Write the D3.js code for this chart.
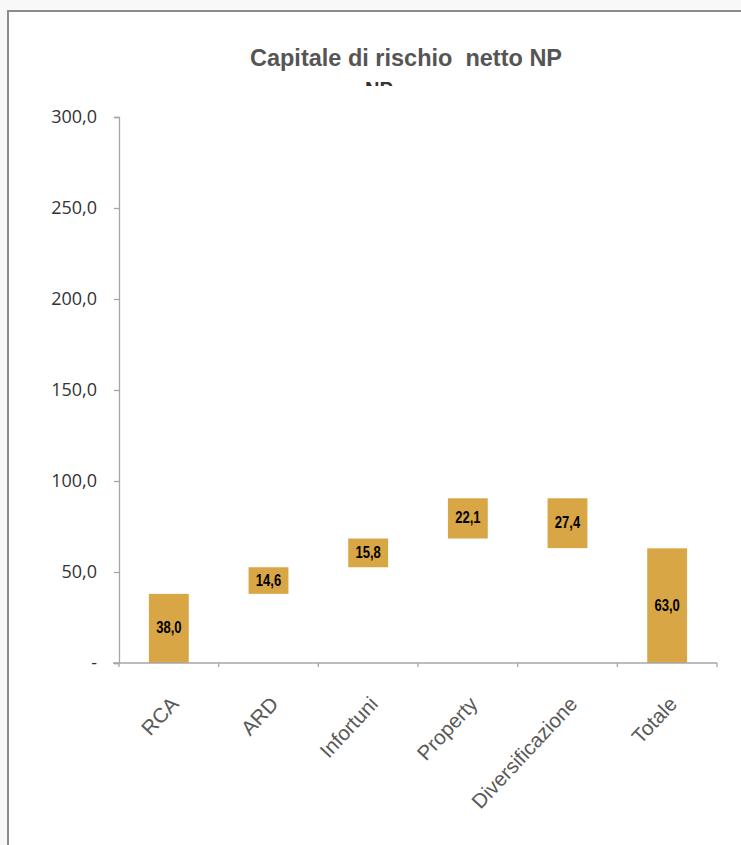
<!DOCTYPE html>
<html>
<head>
<meta charset="utf-8">
<title>Capitale di rischio netto NP</title>
<script src="https://cdn.jsdelivr.net/npm/d3@7"></script>
<style>
  body { margin: 0; background: #f8f8f8; }
  svg { display: block; }
</style>
</head>
<body>
<script>
// data
var categories = ["RCA", "ARD", "Infortuni", "Property", "Diversificazione", "Totale"];
var values = [38.0, 14.6, 15.8, 22.1, -27.4, 63.0];
var isTotal = [false, false, false, false, false, true];
var yTicks = [0, 50, 100, 150, 200, 250, 300];
var yTickLabels = ["-", "50,0", "100,0", "150,0", "200,0", "250,0", "300,0"];

var W = 741, H = 845;
var barColor = "#d9a645";

// waterfall steps
var running = 0;
var steps = categories.map(function(c, i) {
  var v = values[i], lo, hi;
  if (isTotal[i]) { lo = 0; hi = v; running = v; }
  else { lo = Math.min(running, running + v); hi = Math.max(running, running + v); running += v; }
  return {cat: c, value: v, lo: lo, hi: hi};
});

var svg = d3.select("body").append("svg")
  .attr("width", W).attr("height", H);

// panel with gray frame
svg.append("rect")
  .attr("x", 8).attr("y", 11)
  .attr("width", W + 20).attr("height", H + 20)
  .attr("fill", "#fff").attr("stroke", "#8c8c8c").attr("stroke-width", 2);

var xScale = d3.scaleBand().domain(categories).range([119, 717]);
var yScale = d3.scaleLinear().domain([0, 300]).range([663, 117]);

// title
svg.append("text")
  .attr("x", 406).attr("y", 66)
  .attr("text-anchor", "middle")
  .style("white-space", "pre")
  .style("font-family", "Liberation Sans, Arial, sans-serif")
  .style("font-weight", "bold").style("font-size", "23.5px")
  .attr("fill", "#555")
  .text("Capitale di rischio  netto NP");

// leftover fragment under the title
svg.append("clipPath").attr("id", "frag")
  .append("rect").attr("x", 360).attr("y", 82).attr("width", 40).attr("height", 4);
svg.append("text")
  .attr("x", 379).attr("y", 96)
  .attr("text-anchor", "middle")
  .attr("clip-path", "url(#frag)")
  .style("font-family", "Liberation Sans, Arial, sans-serif")
  .style("font-weight", "bold").style("font-size", "20px")
  .attr("fill", "#333")
  .text("NP");

// Y axis
var yAxis = d3.axisLeft(yScale)
  .tickValues(yTicks)
  .tickFormat(function(d, i) { return yTickLabels[i]; })
  .tickSize(5).tickPadding(17);

var gy = svg.append("g")
  .attr("transform", "translate(119,0)")
  .call(yAxis);
gy.select(".domain").attr("stroke", "#a6a6a6").attr("stroke-width", 1.3);
gy.selectAll(".tick line").attr("stroke", "#a6a6a6").attr("stroke-width", 1.3);
gy.selectAll(".tick text")
  .style("font-family", "Open Sans, sans-serif")
  .style("font-size", "18px")
  .attr("fill", "#333");

// bars
svg.selectAll(".bar")
  .data(steps)
  .enter().append("rect")
  .attr("class", "bar")
  .attr("x", function(d) { return xScale(d.cat) + xScale.bandwidth() * 0.3; })
  .attr("width", xScale.bandwidth() * 0.4)
  .attr("y", function(d) { return yScale(d.hi); })
  .attr("height", function(d) { return yScale(d.lo) - yScale(d.hi); })
  .attr("fill", barColor);

// value labels
svg.selectAll(".vlabel")
  .data(steps)
  .enter().append("text")
  .attr("class", "vlabel")
  .attr("transform", function(d) {
    var cx = xScale(d.cat) + xScale.bandwidth() / 2;
    var cy = (yScale(d.lo) + yScale(d.hi)) / 2 + 5;
    return "translate(" + cx + "," + cy + ") scale(0.9,1.1)";
  })
  .attr("text-anchor", "middle")
  .style("font-family", "Liberation Sans, Arial, sans-serif")
  .style("font-weight", "bold").style("font-size", "14.5px")
  .attr("fill", "#000")
  .text(function(d) { return d3.format(".1f")(Math.abs(d.value)).replace(".", ","); });

// X axis with ticks at category boundaries
var gx = svg.append("g").attr("transform", "translate(0," + yScale(0) + ")");
gx.append("line")
  .attr("x1", 113).attr("x2", 717)
  .attr("stroke", "#a6a6a6").attr("stroke-width", 1.5);
var bounds = categories.map(function(c) { return xScale(c); }).concat([xScale.range()[1]]);
gx.selectAll(".xt")
  .data(bounds)
  .enter().append("line")
  .attr("x1", function(d) { return d; }).attr("x2", function(d) { return d; })
  .attr("y1", 0).attr("y2", 4)
  .attr("stroke", "#a6a6a6").attr("stroke-width", 1.3);

gx.selectAll(".xlabel")
  .data(categories)
  .enter().append("text")
  .attr("class", "xlabel")
  .attr("transform", function(c) {
    return "translate(" + (xScale(c) + xScale.bandwidth() / 2 + 11) + ",42) rotate(-47)";
  })
  .attr("text-anchor", "end")
  .style("font-family", "Liberation Sans, Arial, sans-serif")
  .style("font-size", "20.5px")
  .attr("fill", "#595959")
  .text(function(c) { return c; });
</script>
</body>
</html>
